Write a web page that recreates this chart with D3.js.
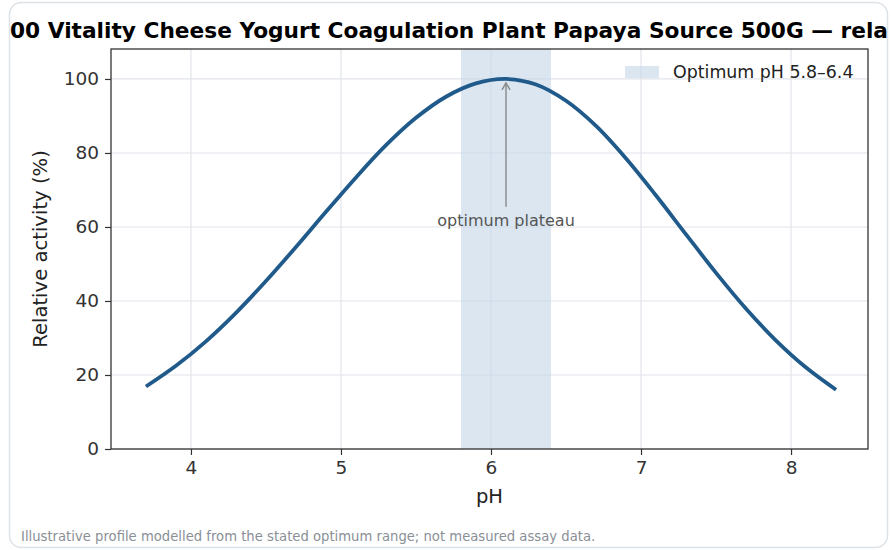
<!DOCTYPE html>
<html>
<head>
<meta charset="utf-8">
<script src="https://cdn.jsdelivr.net/npm/d3@7"></script>
<style>
  body { margin: 0; background: #fff; font-family: "DejaVu Sans", sans-serif; }
  #chart { width: 891px; height: 550px; overflow: hidden; }
</style>
</head>
<body>
<div id="chart"></div>
<script>
var width = 891, height = 550;

// pH profile
var phValues = [3.7, 3.9, 4.1, 4.3, 4.5, 4.7, 4.9, 5.1, 5.3, 5.5, 5.7, 5.9, 6.1,
  6.3, 6.5, 6.7, 6.9, 7.1, 7.3, 7.5, 7.7, 7.9, 8.1, 8.3];
var activity = [16.9, 22.5, 29.1, 36.8, 45.4, 54.6, 64.1, 73.4, 82.1, 89.5, 95.2, 98.8, 100,
  98.5, 94.1, 87.3, 78.5, 68.5, 58.0, 47.6, 37.9, 29.3, 22.0, 16.0];
var optimumBand = [5.8, 6.4];
var peakPh = 6.1, peakActivity = 100;
var xTicks = [4, 5, 6, 7, 8];
var yTicks = [0, 20, 40, 60, 80, 100];

var margin = {top: 49, right: 23, bottom: 101, left: 111};

var svg = d3.select('#chart')
  .append('svg')
  .attr('width', width)
  .attr('height', height);

// card outline
svg.append('rect')
  .attr('x', 9.5).attr('y', 2.5)
  .attr('width', 878).attr('height', 545)
  .attr('rx', 12)
  .attr('fill', '#fff')
  .attr('stroke', '#dde2e7')
  .attr('stroke-width', 1.5);

var x = d3.scaleLinear()
  .domain([3.467, 8.513])
  .range([margin.left, width - margin.right]);

var y = d3.scaleLinear()
  .domain([0, 108.1])
  .range([height - margin.bottom, margin.top]);

var g = svg.append('g');

// grid
g.selectAll('.vgrid')
  .data(xTicks)
  .enter()
  .append('line')
  .attr('x1', function(d){return x(d);})
  .attr('x2', function(d){return x(d);})
  .attr('y1', y.range()[0]).attr('y2', y.range()[1])
  .attr('stroke', '#e1e4ea').attr('stroke-width', 1.2);

g.selectAll('.hgrid')
  .data(yTicks)
  .enter()
  .append('line')
  .attr('x1', x.range()[0]).attr('x2', x.range()[1])
  .attr('y1', function(d){return y(d);})
  .attr('y2', function(d){return y(d);})
  .attr('stroke', '#e1e4ea').attr('stroke-width', 1.2);

// optimum band
g.append('rect')
  .attr('x', x(optimumBand[0]))
  .attr('y', y.range()[1])
  .attr('width', x(optimumBand[1]) - x(optimumBand[0]))
  .attr('height', y.range()[0] - y.range()[1])
  .attr('fill', '#c5d6e8')
  .attr('fill-opacity', 0.62);

// curve
var line = d3.line()
  .x(function(d, i){return x(phValues[i]);})
  .y(function(d){return y(d);})
  .curve(d3.curveCatmullRom);

g.append('path')
  .datum(activity)
  .attr('d', line)
  .attr('fill', 'none')
  .attr('stroke', '#1f5a8a')
  .attr('stroke-width', 3.8)
  .attr('stroke-linecap', 'butt');

// annotation arrow
var ax = x(peakPh);
g.append('line')
  .attr('x1', ax).attr('x2', ax)
  .attr('y1', y(65.5)).attr('y2', y(peakActivity) + 4)
  .attr('stroke', '#888').attr('stroke-width', 1.4);
g.append('path')
  .attr('d', 'M' + (ax - 4) + ',' + (y(peakActivity) + 11) + ' L' + ax + ',' + (y(peakActivity) + 4) +
    ' L' + (ax + 4) + ',' + (y(peakActivity) + 11))
  .attr('fill', 'none').attr('stroke', '#888').attr('stroke-width', 1.4);
g.append('text')
  .attr('x', ax).attr('y', y(60.3))
  .attr('text-anchor', 'middle')
  .attr('font-size', '16px')
  .attr('fill', '#555')
  .text('optimum plateau');

// axes
var xAxis = svg.append('g')
  .attr('transform', 'translate(0,' + y.range()[0] + ')')
  .call(d3.axisBottom(x).tickValues(xTicks).tickFormat(d3.format('d'))
    .tickSize(6).tickPadding(6).tickSizeOuter(0));
var yAxis = svg.append('g')
  .attr('transform', 'translate(' + x.range()[0] + ',0)')
  .call(d3.axisLeft(y).tickValues(yTicks).tickFormat(d3.format('d'))
    .tickSize(6).tickPadding(6).tickSizeOuter(0));

[xAxis, yAxis].forEach(function(a){
  a.select('.domain').remove();
  a.selectAll('.tick line').attr('stroke', '#333').attr('stroke-width', 1.2);
  a.selectAll('.tick text').attr('fill', '#333')
    .attr('font-size', '18.5px').attr('font-family', '"DejaVu Sans", sans-serif');
});

// frame
svg.append('rect')
  .attr('x', x.range()[0]).attr('y', y.range()[1])
  .attr('width', x.range()[1] - x.range()[0])
  .attr('height', y.range()[0] - y.range()[1])
  .attr('fill', 'none')
  .attr('stroke', '#333').attr('stroke-width', 1.3);

// legend
svg.append('rect')
  .attr('x', 625).attr('y', 66).attr('width', 34).attr('height', 12)
  .attr('fill', '#c5d6e8').attr('fill-opacity', 0.62);
svg.append('text')
  .attr('x', 673).attr('y', 78)
  .attr('font-size', '17.4px').attr('fill', '#222')
  .text('Optimum pH 5.8\u20136.4');

// labels
svg.append('text')
  .attr('x', 10).attr('y', 38)
  .attr('font-size', '21.7px').attr('font-weight', 'bold').attr('fill', '#000')
  .text('00 Vitality Cheese Yogurt Coagulation Plant Papaya Source 500G \u2014 rela');

svg.append('text')
  .attr('x', (x.range()[0] + x.range()[1]) / 2).attr('y', 503)
  .attr('text-anchor', 'middle')
  .attr('font-size', '19.5px').attr('fill', '#222')
  .text('pH');

svg.append('text')
  .attr('transform', 'translate(47,' + ((y.range()[0] + y.range()[1]) / 2) + ') rotate(-90)')
  .attr('text-anchor', 'middle')
  .attr('font-size', '19.6px').attr('fill', '#222')
  .text('Relative activity (%)');

svg.append('text')
  .attr('x', 21).attr('y', 541)
  .attr('font-size', '13.2px').attr('fill', '#8a8f96')
  .text('Illustrative profile modelled from the stated optimum range; not measured assay data.');
</script>
</body>
</html>
